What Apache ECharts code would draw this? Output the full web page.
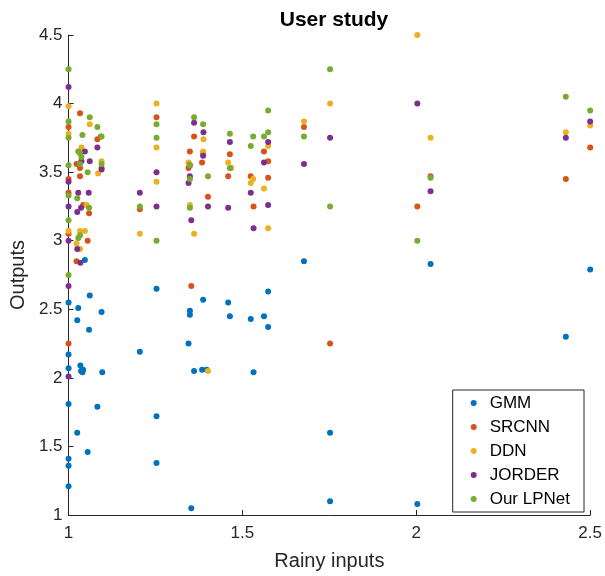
<!DOCTYPE html>
<html>
<head>
<meta charset="utf-8">
<script src="https://cdn.jsdelivr.net/npm/echarts@6/dist/echarts.min.js"></script>
<style>
html, body { margin: 0; padding: 0; background: #fff; }
#Chart { width: 605px; height: 576px; }
</style>
</head>
<body>
<div id="Chart"></div>
<script>
// rainy input score, output score
var gmm = [
    [1.0,2.55],[1.0,2.17],[1.0,2.07],[1.0,1.81],[1.0,1.41],[1.0,1.36],[1.0,1.21],
    [1.025,2.42],[1.028,2.51],[1.025,1.60],[1.047,2.86],[1.061,2.60],[1.059,2.35],
    [1.034,2.09],[1.036,2.05],[1.04,2.04],[1.042,2.06],[1.095,2.48],[1.097,2.04],
    [1.083,1.79],[1.055,1.46],[1.205,2.19],[1.253,2.65],[1.253,1.72],[1.253,1.38],
    [1.349,2.49],[1.349,2.46],[1.345,2.25],[1.361,2.05],[1.384,2.06],[1.397,2.06],
    [1.353,1.05],[1.387,2.57],[1.459,2.55],[1.464,2.45],[1.524,2.43],[1.532,2.04],
    [1.562,2.45],[1.574,2.37],[1.574,2.63],[1.677,2.85],[1.752,1.60],[1.752,1.10],
    [2.003,1.08],[2.041,2.83],[2.43,2.30],[2.5,2.79]
];
var srcnn = [
    [1.0,3.83],[1.0,3.45],[1.0,3.35],[1.0,3.05],[1.0,2.25],
    [1.033,3.93],[1.093,3.76],[1.083,3.74],[1.023,3.56],[1.033,3.53],[1.033,3.47],
    [1.042,3.26],[1.059,3.20],[1.055,3.0],[1.023,2.85],[1.095,3.53],
    [1.205,3.23],[1.253,3.90],[1.361,3.76],[1.349,3.65],[1.387,3.64],[1.384,3.57],
    [1.345,3.53],[1.401,3.32],[1.353,2.67],[1.464,3.63],[1.459,3.47],[1.524,3.47],
    [1.532,3.25],[1.562,3.65],[1.574,3.58],[1.574,3.46],[1.677,3.83],[1.752,2.25],
    [2.003,3.25],[2.041,3.47],[2.43,3.45],[2.5,3.68]
];
var ddn = [
    [1.0,3.98],[1.0,3.78],[1.0,3.07],[1.061,3.85],[1.037,3.68],[1.095,3.58],[1.085,3.49],
    [1.052,3.26],[1.033,3.07],[1.047,3.07],[1.023,2.98],[1.033,2.94],[1.033,3.64],
    [1.205,3.05],[1.253,4.0],[1.253,3.68],[1.253,3.43],[1.388,3.74],[1.387,3.65],
    [1.345,3.57],[1.349,3.26],[1.361,3.05],[1.401,2.05],[1.459,3.57],[1.468,3.53],
    [1.531,3.45],[1.524,3.42],[1.574,3.69],[1.562,3.38],[1.574,3.09],[1.677,3.87],
    [1.752,4.0],[2.003,4.5],[2.041,3.75],[2.43,3.79],[2.5,3.84]
];
var jorder = [
    [1.0,4.12],[1.0,3.43],[1.0,3.25],[1.0,3.0],[1.0,2.67],[1.0,2.01],
    [1.047,3.65],[1.083,3.68],[1.061,3.58],[1.095,3.52],[1.037,3.58],[1.058,3.35],
    [1.028,3.35],[1.036,3.24],[1.025,3.21],[1.025,2.94],[1.034,2.84],
    [1.205,3.35],[1.253,3.50],[1.253,3.25],[1.361,3.86],[1.388,3.79],[1.387,3.62],
    [1.349,3.55],[1.349,3.47],[1.345,3.42],[1.401,3.25],[1.353,3.15],[1.464,3.72],
    [1.459,3.24],[1.524,3.35],[1.532,3.09],[1.574,3.72],[1.562,3.57],[1.574,3.26],
    [1.677,3.56],[1.752,3.75],[2.003,4.0],[2.041,3.36],[2.43,3.75],[2.5,3.87]
];
var lpnet = [
    [1.0,4.25],[1.0,3.87],[1.0,3.75],[1.0,3.55],[1.0,3.33],[1.0,3.15],[1.0,2.75],
    [1.061,3.90],[1.083,3.83],[1.04,3.77],[1.095,3.76],[1.028,3.65],[1.033,3.64],
    [1.037,3.61],[1.033,3.56],[1.055,3.50],[1.095,3.56],[1.025,3.31],[1.059,3.24],
    [1.028,3.02],[1.033,3.04],
    [1.205,3.25],[1.253,3.85],[1.253,3.75],[1.253,3.0],[1.361,3.90],[1.387,3.85],
    [1.349,3.55],[1.349,3.45],[1.401,3.47],[1.349,3.24],[1.464,3.78],[1.464,3.53],
    [1.531,3.76],[1.524,3.69],[1.574,3.95],[1.574,3.79],[1.562,3.76],[1.677,3.76],
    [1.752,4.25],[1.752,3.25],[2.003,3.0],[2.041,3.46],[2.43,4.05],[2.5,3.95]
];
var names = ["GMM", "SRCNN", "DDN", "JORDER", "Our LPNet"];
var colors = ["#0072BD", "#D95319", "#EDB120", "#7E2F8E", "#77AC30"];
var axisColor = "#262626";
var font = "'Liberation Sans', Arial, sans-serif";

var myChart = echarts.init(document.getElementById("Chart"));
var allData = [gmm, srcnn, ddn, jorder, lpnet];
var series = [];
for (var i = 0; i < allData.length; i++) {
    series.push({
        name: names[i],
        type: 'scatter',
        data: allData[i],
        symbol: 'circle',
        symbolSize: 6,
        clip: false,
        itemStyle: { color: colors[i], opacity: 1 }
    });
}
var option = {
    animation: false,
    backgroundColor: '#fff',
    title: {
        text: 'User study',
        left: 329,
        textAlign: 'center',
        top: 5,
        textStyle: { fontFamily: font, fontSize: 21, fontWeight: 'bold', color: '#000' }
    },
    legend: {
        orient: 'vertical',
        right: 21,
        bottom: 64,
        data: names,
        icon: 'circle',
        itemWidth: 6,
        itemHeight: 6,
        itemGap: 6,
        padding: [4, 14, 4, 18],
        borderColor: axisColor,
        borderWidth: 1,
        backgroundColor: '#fff',
        textStyle: { fontFamily: font, fontSize: 17, color: '#000', lineHeight: 18, padding: [0, 0, 0, 8] }
    },
    grid: {
        left: 67,
        right: 14,
        top: 35,
        bottom: 58
    },
    xAxis: {
        type: 'value',
        min: 1,
        max: 2.5,
        interval: 0.5,
        name: 'Rainy inputs',
        nameLocation: 'middle',
        nameGap: 36,
        nameTextStyle: { fontFamily: font, fontSize: 20, color: axisColor },
        axisLine: { show: true, lineStyle: { color: axisColor, width: 1 } },
        axisTick: { show: true, inside: true, length: 5, lineStyle: { color: axisColor } },
        axisLabel: { fontFamily: font, fontSize: 17, color: axisColor, margin: 10 },
        splitLine: { show: false }
    },
    yAxis: {
        type: 'value',
        min: 1,
        max: 4.5,
        interval: 0.5,
        name: 'Outputs',
        nameLocation: 'middle',
        nameGap: 38,
        nameRotate: 90,
        nameTextStyle: { fontFamily: font, fontSize: 20, color: axisColor },
        axisLine: { show: true, lineStyle: { color: axisColor, width: 1 } },
        axisTick: { show: true, inside: true, length: 5, lineStyle: { color: axisColor } },
        axisLabel: { fontFamily: font, fontSize: 17, color: axisColor, margin: 6 },
        splitLine: { show: false }
    },
    series: series
};
myChart.setOption(option);
window.addEventListener("resize", function () {
    myChart.resize();
});
</script>
</body>
</html>
